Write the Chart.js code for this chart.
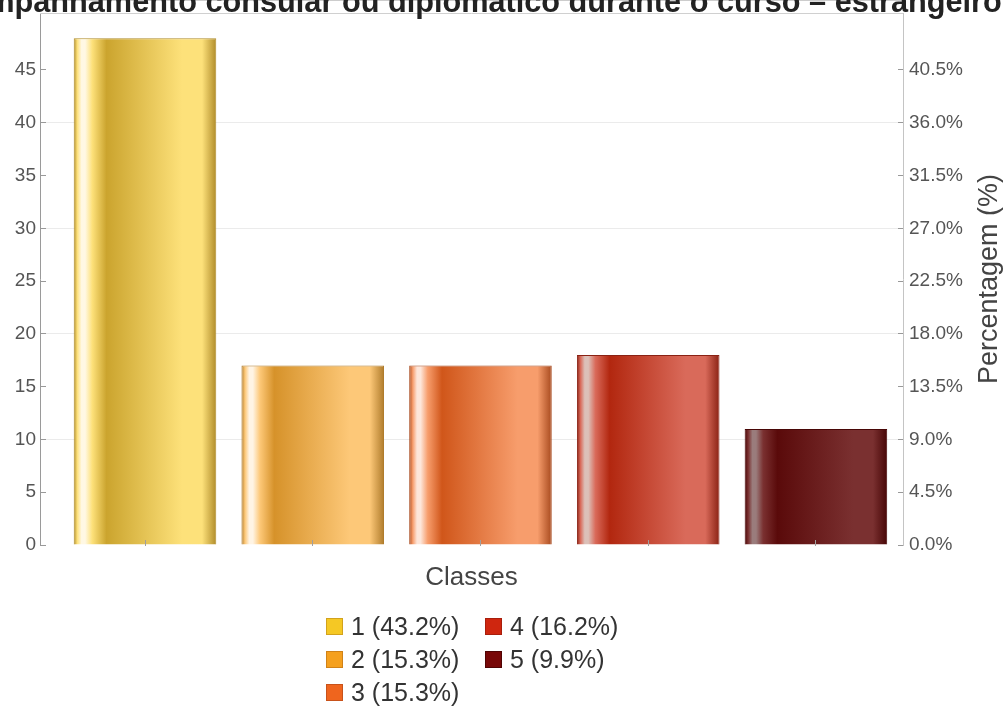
<!DOCTYPE html>
<html>
<head>
<meta charset="utf-8">
<script src="https://cdn.jsdelivr.net/npm/chart.js@4/dist/chart.umd.min.js"></script>
<style>
  html, body { margin: 0; padding: 0; background: #fff; overflow: hidden; }
  #wrap { position: relative; width: 1006px; height: 708px; }
  #legend {
    position: absolute; left: 326px; top: 610px;
    display: grid; grid-auto-flow: column;
    grid-template-rows: repeat(3, 33px); grid-template-columns: 159px 170px;
    font: 25px "Liberation Sans", Arial, sans-serif; color: #333;
  }
  .item { display: flex; align-items: center; white-space: nowrap; }
  .sw { width: 17px; height: 17px; margin-right: 8px; box-sizing: border-box; border: 1px solid; }
</style>
</head>
<body>
<div id="wrap">
  <canvas id="chart" width="1006" height="708"></canvas>
  <div id="legend"></div>
</div>
<script>
const TITLE = "Acompanhamento consular ou diplomático durante o curso – estrangeiro";
const X_TITLE = "Classes";
const Y2_TITLE = "Percentagem (%)";

const classes = ["1", "2", "3", "4", "5"];
const counts = [48, 17, 17, 18, 11];
const shares = ["43.2%", "15.3%", "15.3%", "16.2%", "9.9%"];
const countTicks = [0, 5, 10, 15, 20, 25, 30, 35, 40, 45];
const pctTicks = ["0.0%", "4.5%", "9.0%", "13.5%", "18.0%", "22.5%", "27.0%", "31.5%", "36.0%", "40.5%"];

// colours
const swatch = ["#f5c824", "#f5a01e", "#ef651e", "#cf260f", "#780808"];
const swatchEdge = ["#d2a21c", "#d08218", "#c8521a", "#a81e0c", "#500404"];
const barEdge = ["#b08c2a", "#b07c2c", "#a84a1e", "#8a2214", "#470606"];
const barHi = ["#fff8e4", "#fff4e4", "#fde6da", "#dcc0b8", "#9a7c7c"];
const barDark = ["#cba42e", "#d6922a", "#d0561a", "#b2270f", "#5a0a0a"];
const barLight = ["#fde17a", "#fdc878", "#f79d6c", "#d96a5a", "#7a3030"];

const BAR_PCT = 0.85;
const FONT = '"Liberation Sans", Arial, sans-serif';

function barFill(c) {
  const i = c.dataIndex;
  const xs = c.chart.scales.x;
  if (c.type !== 'data' || !xs) return swatch[i] || swatch[0];
  const cx = xs.getPixelForValue(i + 1);
  const half = Math.abs(xs.getPixelForValue(2) - xs.getPixelForValue(1)) * BAR_PCT / 2;
  if (!isFinite(cx) || !isFinite(half) || half <= 0) return swatch[i];
  const g = c.chart.ctx.createLinearGradient(cx - half, 0, cx + half, 0);
  g.addColorStop(0, barEdge[i]);
  g.addColorStop(0.025, barLight[i]);
  g.addColorStop(0.055, barHi[i]);
  g.addColorStop(0.08, barHi[i]);
  g.addColorStop(0.13, barLight[i]);
  g.addColorStop(0.23, barDark[i]);
  g.addColorStop(0.76, barLight[i]);
  g.addColorStop(0.9, barLight[i]);
  g.addColorStop(1, barEdge[i]);
  return g;
}

// title, right axis title and top frame line
const decor = {
  id: 'decor',
  beforeDatasetsDraw(chart) {
    const { ctx, chartArea: a } = chart;
    ctx.save();
    ctx.strokeStyle = '#d0d0d0';
    ctx.lineWidth = 1;
    ctx.beginPath();
    ctx.moveTo(a.left, a.top + 0.5);
    ctx.lineTo(a.right, a.top + 0.5);
    ctx.stroke();
    ctx.restore();
  },
  afterDraw(chart) {
    const { ctx, chartArea: a } = chart;
    ctx.save();
    ctx.fillStyle = '#222';
    ctx.font = 'bold 30.7px ' + FONT;
    ctx.textAlign = 'center';
    ctx.textBaseline = 'alphabetic';
    ctx.fillText(TITLE, (a.left + a.right) / 2 - 6, 12);

    ctx.fillStyle = '#444';
    ctx.font = '27px ' + FONT;
    ctx.translate(990, (a.top + a.bottom) / 2);
    ctx.rotate(-Math.PI / 2);
    ctx.textBaseline = 'middle';
    ctx.fillText(Y2_TITLE, 0, 0);
    ctx.restore();
  }
};

const tickFont = { family: FONT, size: 19 };

new Chart(document.getElementById('chart'), {
  type: 'bar',
  data: {
    datasets: [{
      data: counts.map((v, i) => ({ x: i + 1, y: v })),
      backgroundColor: barFill,
      borderColor: barEdge,
      borderWidth: 1,
      categoryPercentage: 1,
      barPercentage: BAR_PCT,
      yAxisID: 'y'
    }]
  },
  options: {
    responsive: false,
    animation: false,
    devicePixelRatio: 1,
    layout: { padding: { top: 13, left: 0, right: 0, bottom: 0 } },
    plugins: { legend: { display: false }, title: { display: false }, tooltip: { enabled: false } },
    scales: {
      x: {
        type: 'linear', min: 0.374, max: 5.519, offset: false,
        afterBuildTicks: s => { s.ticks = classes.map((c, i) => ({ value: i + 1 })); },
        afterFit: s => { s.height = 163; s.paddingLeft = 0; s.paddingRight = 0; },
        ticks: { display: false },
        grid: { offset: false, drawOnChartArea: false, tickLength: -5, tickColor: '#a0a0a0', color: 'transparent', z: 1 },
        border: { color: '#9a9a9a' },
        title: { display: true, text: X_TITLE, color: '#444', font: { family: FONT, size: 26 }, padding: { top: 0, bottom: 114.4 } }
      },
      y: {
        position: 'left', min: 0, max: 50.4,
        afterBuildTicks: s => { s.ticks = countTicks.map(v => ({ value: v })); },
        afterFit: s => { s.width = 40; s.paddingTop = 0; s.paddingBottom = 0; },
        ticks: { color: '#555', font: tickFont, padding: 10 },
        grid: {
          color: c => (c.tick && c.tick.value % 10 === 0 && c.tick.value > 0) ? '#ebebeb' : 'transparent',
          tickLength: -6, tickColor: '#999'
        },
        border: { color: '#9a9a9a' }
      },
      y2: {
        position: 'right', min: 0, max: 50.4,
        afterBuildTicks: s => { s.ticks = countTicks.map(v => ({ value: v })); },
        afterFit: s => { s.width = 103; s.paddingTop = 0; s.paddingBottom = 0; },
        ticks: { color: '#555', font: tickFont, padding: 11, callback: (v, i) => pctTicks[i] },
        grid: { drawOnChartArea: false, tickLength: -5, tickColor: '#999', color: 'transparent' },
        border: { color: '#c4c4c4' }
      }
    }
  },
  plugins: [decor]
});

// legend, column-major like the original
const legend = document.getElementById('legend');
classes.forEach((c, i) => {
  const item = document.createElement('div');
  item.className = 'item';
  const sw = document.createElement('span');
  sw.className = 'sw';
  sw.style.background = swatch[i];
  sw.style.borderColor = swatchEdge[i];
  item.appendChild(sw);
  item.appendChild(document.createTextNode(c + ' (' + shares[i] + ')'));
  legend.appendChild(item);
});
</script>
</body>
</html>
